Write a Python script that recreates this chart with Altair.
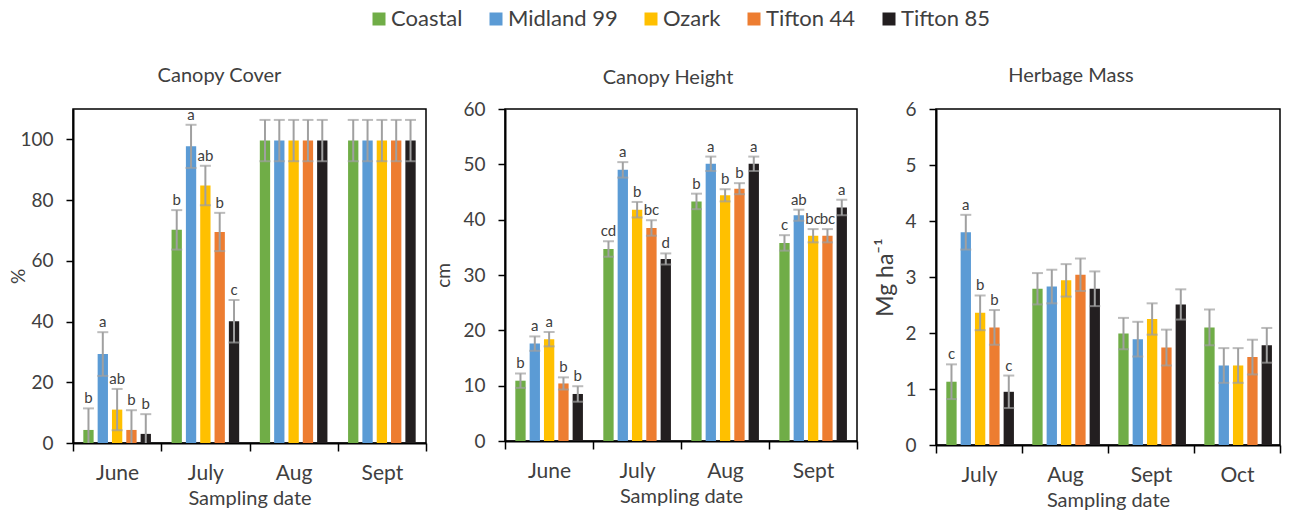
import altair as alt
import pandas as pd

FONT = "Lato"
TXT = "#404040"
ERR = "#A0A0A0"

cultivars = ["Coastal", "Midland 99", "Ozark", "Tifton 44", "Tifton 85"]
colors = ["#70AD47", "#5B9BD5", "#FFC000", "#ED7D31", "#231F20"]

# ---- Canopy Cover (%) ----
cover_months = ["June", "July", "Aug", "Sept"]
cover_mean = [
    [4.3, 29.3, 11.0, 4.3, 3.0],
    [70.2, 97.7, 84.8, 69.5, 40.1],
    [99.6, 99.6, 99.6, 99.6, 99.6],
    [99.6, 99.6, 99.6, 99.6, 99.6],
]
cover_err = [
    [7.1, 7.2, 6.8, 6.5, 6.5],
    [6.5, 7.1, 6.5, 6.3, 7.0],
    [6.8, 6.8, 6.8, 6.8, 6.8],
    [6.8, 6.8, 6.8, 6.8, 6.8],
]
cover_letters = [
    ["b", "a", "ab", "b", "b"],
    ["b", "a", "ab", "b", "c"],
    ["", "", "", "", ""],
    ["", "", "", "", ""],
]

# ---- Canopy Height (cm) ----
height_months = ["June", "July", "Aug", "Sept"]
height_mean = [
    [10.9, 17.6, 18.4, 10.4, 8.5],
    [34.7, 49.0, 41.8, 38.5, 32.9],
    [43.3, 50.1, 44.4, 45.6, 50.1],
    [35.8, 40.8, 37.1, 37.1, 42.2],
]
height_err = [
    [1.3, 1.3, 1.3, 1.1, 1.4],
    [1.4, 1.4, 1.4, 1.4, 1.0],
    [1.4, 1.3, 1.1, 1.0, 1.3],
    [1.4, 1.0, 1.2, 1.2, 1.4],
]
height_letters = [
    ["b", "a", "a", "b", "b"],
    ["cd", "a", "b", "bc", "d"],
    ["b", "a", "b", "b", "a"],
    ["c", "ab", "bc", "bc", "a"],
]

# ---- Herbage Mass (Mg ha-1) ----
mass_months = ["July", "Aug", "Sept", "Oct"]
mass_mean = [
    [1.13, 3.80, 2.36, 2.10, 0.95],
    [2.79, 2.83, 2.94, 3.04, 2.79],
    [1.99, 1.89, 2.25, 1.74, 2.51],
    [2.10, 1.42, 1.42, 1.57, 1.78],
]
mass_err = [
    [0.31, 0.31, 0.31, 0.31, 0.29],
    [0.28, 0.30, 0.29, 0.29, 0.31],
    [0.28, 0.31, 0.28, 0.32, 0.27],
    [0.32, 0.31, 0.31, 0.31, 0.31],
]
mass_letters = [
    ["c", "a", "b", "b", "c"],
    ["", "", "", "", ""],
    ["", "", "", "", ""],
    ["", "", "", "", ""],
]

legend = alt.Legend(orient="none", legendX=295, legendY=-101,
                    direction="horizontal", title=None, symbolType="square",
                    symbolSize=169, symbolStrokeWidth=0, labelFontSize=22,
                    labelColor=TXT, labelFont=FONT, columnPadding=22,
                    labelOffset=1)


def panel(months, means, errs, letters, title, ytitle, ymax, yvals,
          width, height, title_dx, title_off, ytitle_x, ytitle_size):
    rows = []
    for i, m in enumerate(months):
        for j, c in enumerate(cultivars):
            mu = means[i][j]
            e = errs[i][j]
            rows.append(dict(month=m, cultivar=c, mean=mu,
                             lo=max(0.0, mu - e), hi=mu + e,
                             caplo=(mu - e) >= 0, letter=letters[i][j]))
    df = pd.DataFrame(rows)

    x = alt.X("month:N", sort=months,
              scale=alt.Scale(paddingInner=0, paddingOuter=0),
              axis=alt.Axis(title="Sampling date", tickBand="extent",
                            labelAngle=0, tickSize=8, labelPadding=11,
                            labelFontSize=21, titleFontSize=20,
                            titlePadding=5))
    xo = alt.XOffset("cultivar:N", sort=cultivars,
                     scale=alt.Scale(paddingInner=0.28, paddingOuter=0.72))

    def yenc(field):
        return alt.Y(field, title=ytitle,
                     scale=alt.Scale(domain=[0, ymax], nice=False, zero=True),
                     axis=alt.Axis(values=yvals, tickSize=7, labelPadding=13,
                                   titleX=ytitle_x, titleBaseline="middle",
                                   titleFontSize=ytitle_size))

    color = alt.Color("cultivar:N", sort=cultivars,
                      scale=alt.Scale(domain=cultivars, range=colors),
                      legend=legend)
    base = alt.Chart(df)
    bars = base.mark_bar().encode(x=x, xOffset=xo, y=yenc("mean:Q"), color=color)
    rule = base.mark_rule(color=ERR, strokeWidth=2).encode(
        x=x, xOffset=xo, y=yenc("lo:Q"), y2="hi:Q")
    cap_lo = base.mark_tick(color=ERR, size=11, thickness=2).encode(
        x=x, xOffset=xo, y=yenc("lo:Q")).transform_filter("datum.caplo")
    cap_hi = base.mark_tick(color=ERR, size=11, thickness=2).encode(
        x=x, xOffset=xo, y=yenc("hi:Q"))
    text = base.mark_text(baseline="alphabetic", dy=-5, fontSize=15,
                          color=TXT, font=FONT).encode(
        x=x, xOffset=xo, y=yenc("hi:Q"), text="letter:N")
    return alt.layer(bars, rule, cap_lo, cap_hi, text).properties(
        width=width, height=height,
        title=alt.TitleParams(title, dx=title_dx, offset=title_off,
                              frame="group", baseline="alphabetic",
                              anchor="middle"))


p1 = panel(cover_months, cover_mean, cover_err, cover_letters, "Canopy Cover",
           "%", 110, [0, 20, 40, 60, 80, 100], 353, 334, -30, 1, -55, 19)
p2 = panel(height_months, height_mean, height_err, height_letters,
           "Canopy Height", "cm", 60, [0, 10, 20, 30, 40, 50, 60], 352, 332,
           -13, -4, -62, 19)
p3 = panel(mass_months, mass_mean, mass_err, mass_letters, "Herbage Mass",
           "Mg ha⁻¹", 6, [0, 1, 2, 3, 4, 5, 6], 344, 336, -37, -2, -51, 23)

chart = alt.hconcat(p1, p2, p3, spacing=79, bounds="flush").resolve_scale(
    x="independent", y="independent"
).properties(
    padding={"left": 0, "top": 0, "right": 0, "bottom": 0}
).configure_view(
    stroke="black", strokeWidth=1.5
).configure_axis(
    domainColor="black", domainWidth=2, tickColor="black", tickWidth=1.5,
    labelColor=TXT, titleColor=TXT, labelFont=FONT, titleFont=FONT,
    labelFontSize=19, titleFontSize=19, titleFontWeight="normal", grid=False
).configure_title(
    font=FONT, fontSize=20, fontWeight="normal", color=TXT
)

chart.save("out.html", embed_options={"renderer": "svg", "actions": False})
